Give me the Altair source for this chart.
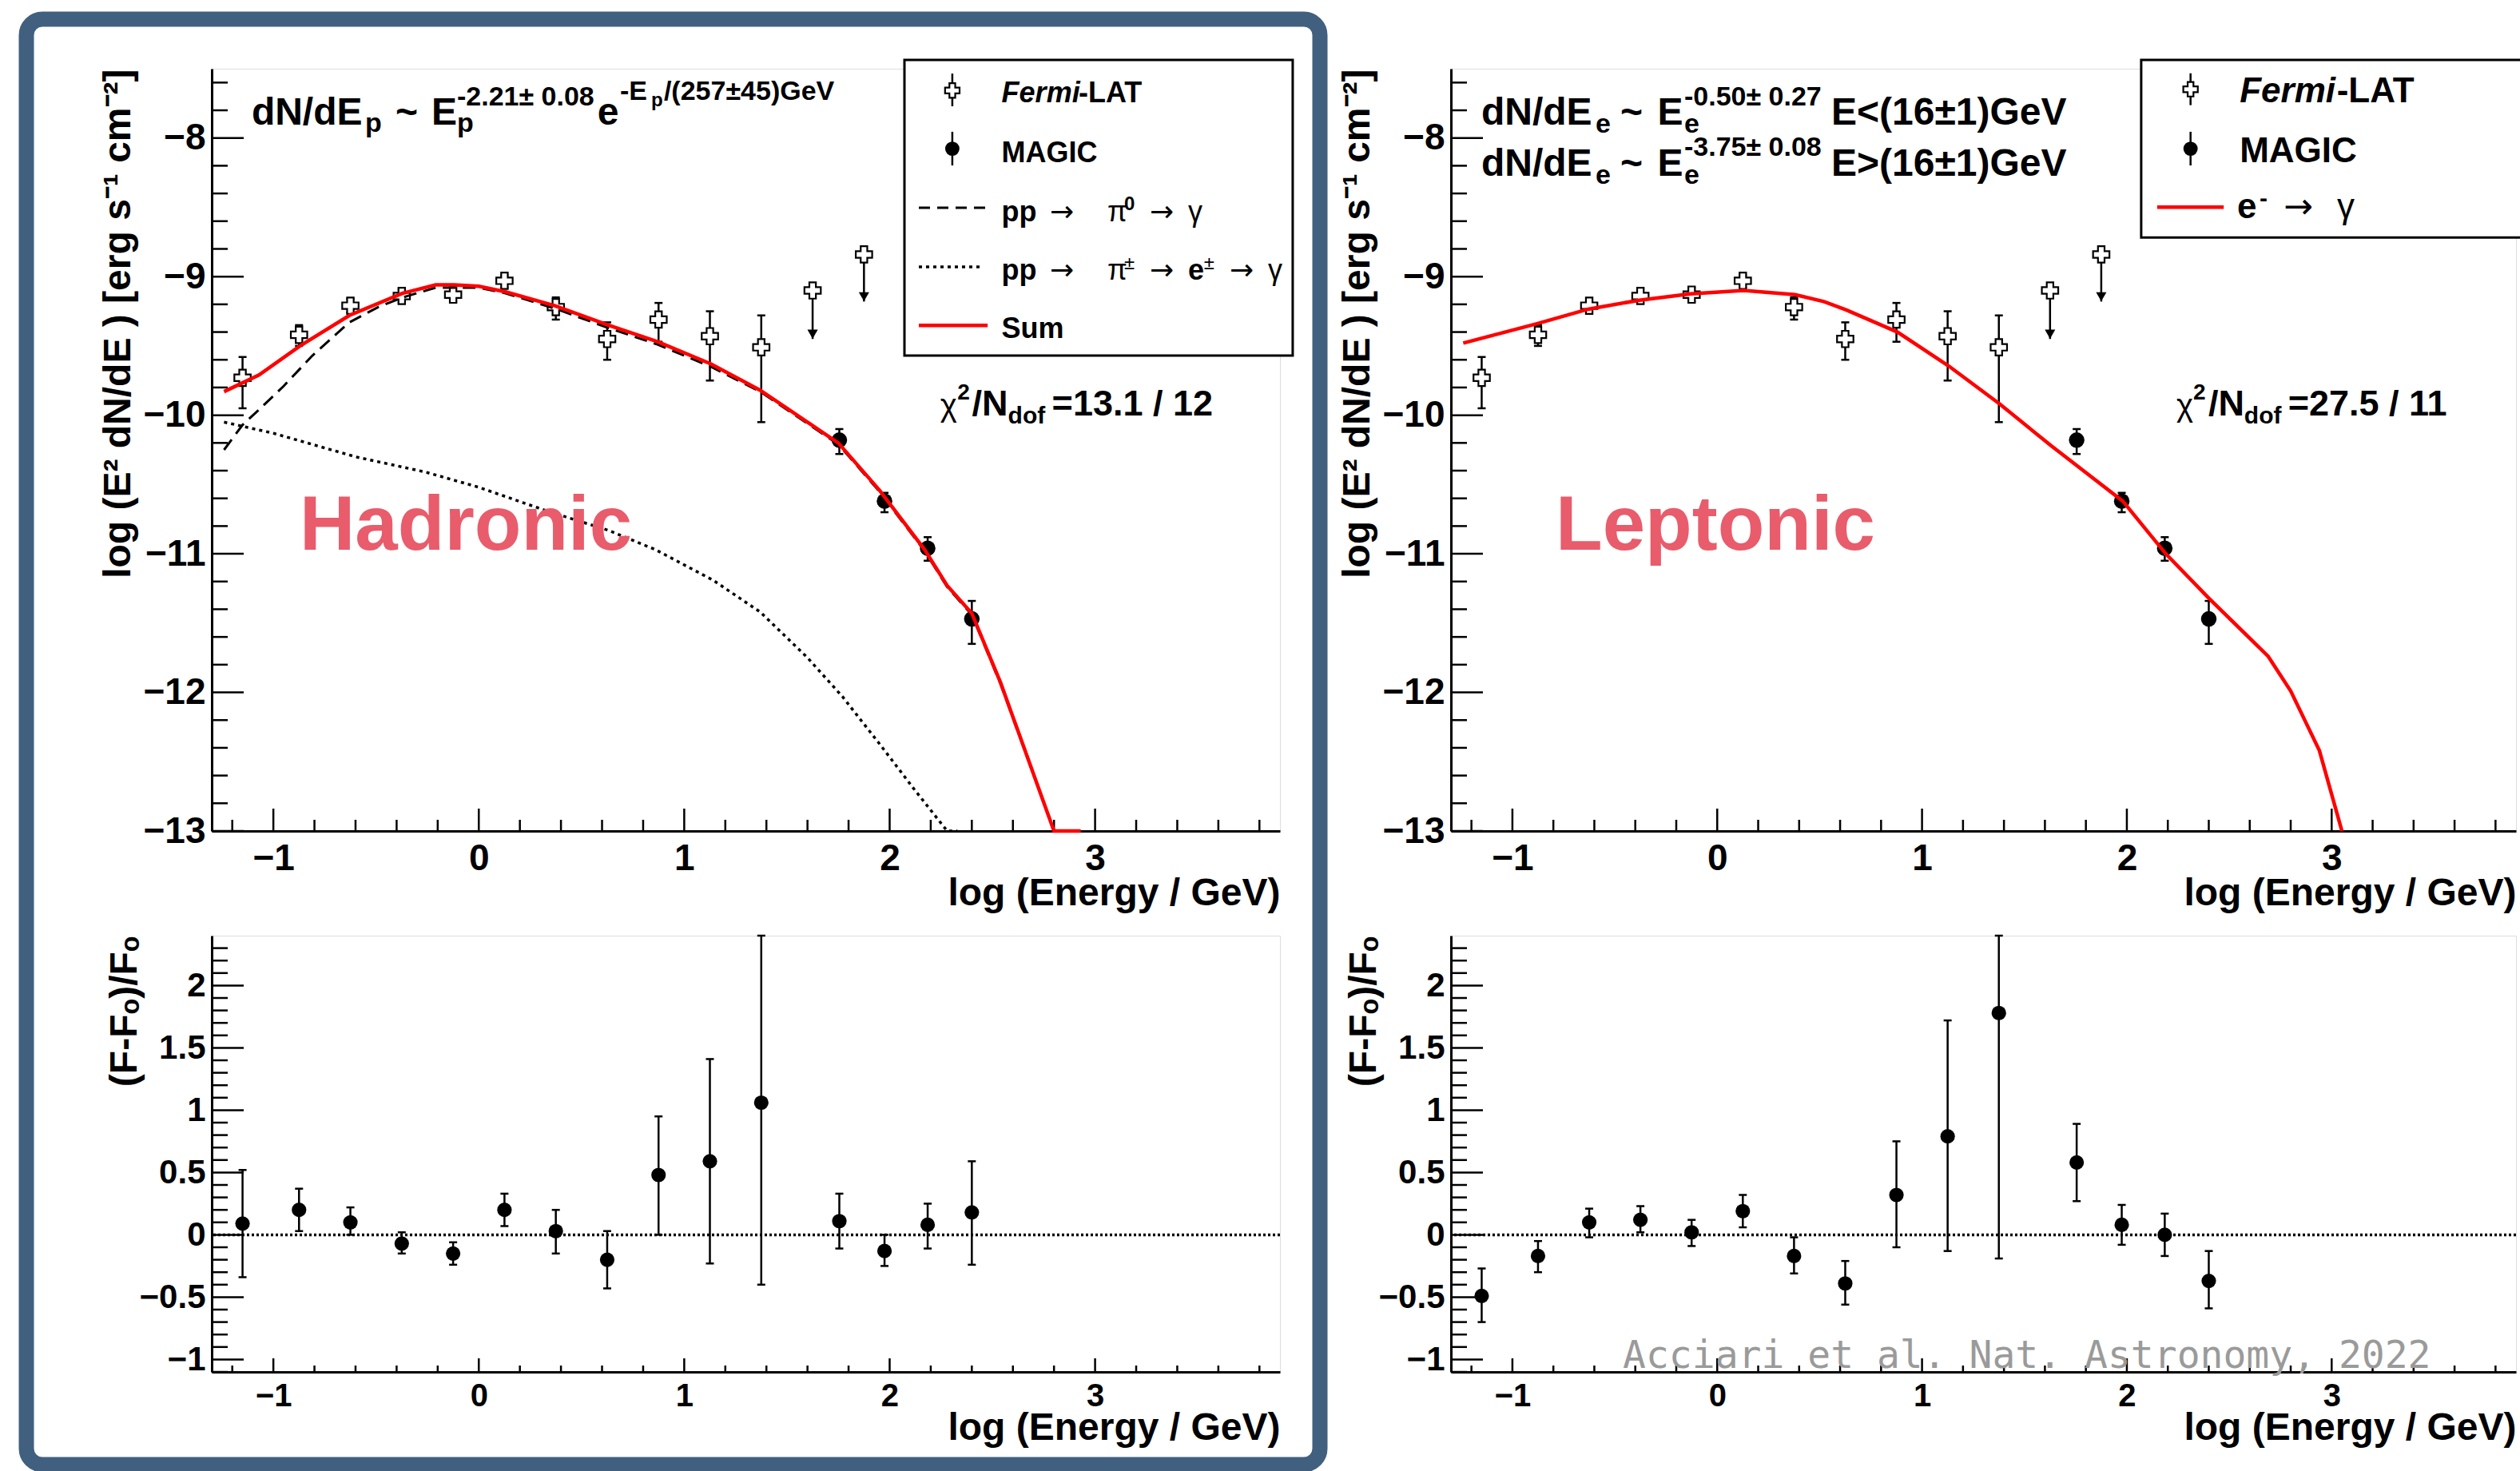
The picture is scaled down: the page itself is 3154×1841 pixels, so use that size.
import altair as alt
import pandas as pd

# ---------------- data ----------------
fermi_x  = [-1.15, -0.875, -0.625, -0.375, -0.125, 0.125, 0.375, 0.625, 0.875, 1.125, 1.375]
fermi_y  = [-9.73, -9.42, -9.21, -9.14, -9.13, -9.03, -9.22, -9.45, -9.31, -9.43, -9.51]
fermi_lo = [-9.95, -9.50, -9.26, -9.19, -9.18, -9.08, -9.31, -9.60, -9.47, -9.75, -10.05]
fermi_hi = [-9.58, -9.35, -9.16, -9.09, -9.08, -8.99, -9.15, -9.33, -9.19, -9.25, -9.28]

ul_x   = [1.625, 1.875]
ul_y   = [-9.10, -8.84]
ul_tip = [-9.45, -9.18]

magic_x  = [1.755, 1.975, 2.185, 2.40]
magic_y  = [-10.18, -10.62, -10.96, -11.47]
magic_lo = [-10.28, -10.70, -11.05, -11.65]
magic_hi = [-10.10, -10.56, -10.88, -11.34]

# hadronic model curves
sum_x = [-1.24, -1.07, -0.87, -0.63, -0.37, -0.21, -0.12, 0.0, 0.13, 0.37, 0.63, 0.87, 1.13,
         1.37, 1.60, 1.75, 1.95, 2.17, 2.28, 2.40, 2.54, 2.80, 2.93]
sum_y = [-9.83, -9.71, -9.50, -9.28, -9.12, -9.06, -9.06, -9.07, -9.11, -9.21, -9.35, -9.47, -9.63,
         -9.82, -10.05, -10.20, -10.54, -10.97, -11.23, -11.43, -11.93, -13.0, -13.0]
pi0_x = [-1.24, -1.15, -1.07, -0.95, -0.81, -0.63, -0.49, -0.37, -0.21, 0.0, 0.13, 0.37, 0.63,
         0.87, 1.13, 1.37, 1.60, 1.75, 1.95, 2.17, 2.28, 2.40, 2.54, 2.80]
pi0_y = [-10.25, -10.07, -9.96, -9.79, -9.57, -9.33, -9.22, -9.15, -9.08, -9.08, -9.12, -9.23, -9.37,
         -9.49, -9.65, -9.83, -10.06, -10.21, -10.55, -10.98, -11.24, -11.44, -11.94, -13.0]
pic_x = [-1.24, -1.0, -0.6, -0.26, 0.0, 0.33, 0.63, 0.86, 1.14, 1.37, 1.60, 1.77, 1.95, 2.12, 2.28, 2.33]
pic_y = [-10.05, -10.13, -10.30, -10.41, -10.52, -10.69, -10.83, -10.97, -11.19, -11.42, -11.75,
         -12.03, -12.37, -12.70, -13.0, -13.0]
# leptonic model curve
lep_x = [-1.24, -0.88, -0.63, -0.38, -0.13, 0.13, 0.38, 0.52, 0.63, 0.88, 1.13, 1.38, 1.63, 1.98,
         2.19, 2.40, 2.69, 2.80, 2.94, 3.05]
lep_y = [-9.48, -9.34, -9.235, -9.17, -9.125, -9.10, -9.13, -9.18, -9.24, -9.40, -9.645, -9.92,
         -10.22, -10.62, -11.0, -11.32, -11.74, -11.99, -12.42, -13.0]

# residuals (F-F0)/F0
res_x = fermi_x + magic_x
resL_y  = [0.09, 0.20, 0.10, -0.07, -0.15, 0.20, 0.03, -0.20, 0.48, 0.59, 1.06, 0.11, -0.13, 0.08, 0.18]
resL_lo = [-0.34, 0.03, 0.0, -0.15, -0.24, 0.07, -0.15, -0.43, 0.0, -0.23, -0.40, -0.11, -0.25, -0.11, -0.24]
resL_hi = [0.52, 0.37, 0.22, 0.02, -0.06, 0.33, 0.20, 0.03, 0.95, 1.41, 2.4, 0.33, 0.0, 0.25, 0.59]
resR_y  = [-0.49, -0.17, 0.10, 0.12, 0.02, 0.19, -0.17, -0.39, 0.32, 0.79, 1.78, 0.58, 0.08, 0.0, -0.37]
resR_lo = [-0.70, -0.30, -0.02, 0.02, -0.09, 0.06, -0.31, -0.56, -0.10, -0.13, -0.19, 0.27, -0.08, -0.17, -0.59]
resR_hi = [-0.27, -0.05, 0.21, 0.23, 0.12, 0.32, -0.02, -0.21, 0.75, 1.72, 2.4, 0.89, 0.24, 0.17, -0.13]

# tick values
x_major = [-1, 0, 1, 2, 3]
x_minor = [v for v in (round(-1.2 + 0.2 * i, 1) for i in range(26)) if abs(v - round(v)) > 1e-6]
yt_major = [-13, -12, -11, -10, -9, -8]
yt_minor = [v for v in (round(-13 + 0.2 * i, 1) for i in range(28)) if abs(v - round(v)) > 1e-6]
yb_major = [-1, -0.5, 0, 0.5, 1, 1.5, 2]
yb_minor = [v for v in (round(-1.1 + 0.1 * i, 1) for i in range(35)) if abs(v * 2 - round(v * 2)) > 1e-6]

# ---------------- layout constants ----------------
FONT = "Liberation Sans"
SYM = "DejaVu Sans"
XDOM = [-1.3, 3.9]
YTOP = [-13.0, -7.5]
YBOT = [-1.1, 2.4]
WL, WR, HT, HB = 1337, 1333, 954, 546
RED = "#ff0000"
PINK = "#E95C6B"
FRAME = "#41607f"


def X(f, axis=None):
    kw = {} if axis is None else {"axis": axis}
    return alt.X(f, type="quantitative", scale=alt.Scale(domain=XDOM, nice=False, zero=False), **kw)


def Y(f, dom, axis=None):
    kw = {} if axis is None else {"axis": axis}
    return alt.Y(f, type="quantitative", scale=alt.Scale(domain=dom, nice=False, zero=False), **kw)


def xaxis(w, lsize, lpad, ty):
    return alt.Axis(values=x_major, format="~g", grid=False, ticks=False, tickSize=0, domain=True,
                    domainColor="black", domainWidth=3, labelFont=FONT, labelFontSize=lsize,
                    labelFontWeight="bold", labelColor="black", labelPadding=lpad, labelFlush=False,
                    labelOverlap=False, title="log (Energy / GeV)", titleFont=FONT, titleFontSize=48,
                    titleFontWeight="bold", titleColor="black", titleAlign="right", titleAnchor="end",
                    titleBaseline="alphabetic", titleX=w, titleY=ty)


def yaxis(vals, title, lsize, tx):
    return alt.Axis(values=vals, format="~g", grid=False, ticks=False, tickSize=0, domain=True,
                    domainColor="black", domainWidth=3, labelFont=FONT, labelFontSize=lsize,
                    labelFontWeight="bold", labelColor="black", labelPadding=8, labelFlush=False,
                    labelOverlap=False, title=title, titleFont=FONT, titleFontSize=48,
                    titleFontWeight="bold", titleColor="black", titleAngle=270, titleAlign="right",
                    titleBaseline="alphabetic", titleX=tx, titleY=0)


def tick_layers(w, h, ymaj, ymin, ydom, yax, xax, xl_maj, xl_min):
    def rules(vals, kind, ln, axis=None):
        base = alt.Chart(pd.DataFrame({"v": vals})).mark_rule(color="black", strokeWidth=2.5)
        if kind == "y":
            return base.encode(y=Y("v", ydom, axis), x=alt.value(0), x2=alt.value(ln))
        return base.encode(x=X("v", axis), y=alt.value(h), y2=alt.value(h - ln))
    return [rules(ymaj, "y", 40, yax), rules(ymin, "y", 20),
            rules(x_major, "x", xl_maj, xax), rules(x_minor, "x", xl_min)]


def errbars(df, ydom, caps=True):
    out = [alt.Chart(df).mark_rule(color="black", strokeWidth=2.5).encode(
        x=X("x"), y=Y("lo", ydom), y2=alt.Y2("hi"))]
    if caps:
        for f in ("lo", "hi"):
            out.append(alt.Chart(df).mark_tick(orient="horizontal", color="black", size=10,
                                               thickness=2.5, opacity=1).encode(x=X("x"), y=Y(f, ydom)))
    return out


def crosses(df, ydom, size=420):
    return alt.Chart(df).mark_point(shape="cross", filled=True, fill="white", stroke="black",
                                    strokeWidth=2.2, size=size, opacity=1).encode(x=X("x"), y=Y("y", ydom))


def dots(df, ydom, size=380):
    return alt.Chart(df).mark_point(shape="circle", filled=True, color="black", size=size,
                                    opacity=1).encode(x=X("x"), y=Y("y", ydom))


def curve(xs, ys, color, width, dash=None):
    kw = dict(color=color, strokeWidth=width)
    if dash:
        kw["strokeDash"] = dash
    return alt.Chart(pd.DataFrame({"x": xs, "y": ys})).mark_line(**kw).encode(x=X("x"), y=Y("y", YTOP))


def seg(x1, x2, y, color, width, dash=None):
    kw = dict(color=color, strokeWidth=width)
    if dash:
        kw["strokeDash"] = dash
    return alt.Chart(pd.DataFrame({"x1": [x1], "x2": [x2], "y": [y]})).mark_rule(**kw).encode(
        x=X("x1"), x2=alt.X2("x2"), y=Y("y", YTOP))


def vbar(x, y1, y2):
    return alt.Chart(pd.DataFrame({"x": [x], "lo": [y1], "hi": [y2]})).mark_rule(
        color="black", strokeWidth=2.5).encode(x=X("x"), y=Y("lo", YTOP), y2=alt.Y2("hi"))


def box(x1, x2, y1, y2):
    return alt.Chart(pd.DataFrame({"x1": [x1], "x2": [x2], "y1": [y1], "y2": [y2]})).mark_rect(
        fill="white", stroke="black", strokeWidth=3).encode(
        x=X("x1"), x2=alt.X2("x2"), y=Y("y1", YTOP), y2=alt.Y2("y2"))


def text_layer(rows, ydom, weight="bold", style="normal", font=FONT, color="black"):
    df = pd.DataFrame(rows, columns=["label", "x", "y", "fs"])
    return alt.Chart(df).mark_text(align="left", baseline="alphabetic", font=font, fontWeight=weight,
                                   fontStyle=style, color=color).encode(
        x=X("x"), y=Y("y", ydom), text=alt.Text("label:N"),
        size=alt.Size("fs:Q", scale=None, legend=None))


fermi_df = pd.DataFrame({"x": fermi_x, "y": fermi_y, "lo": fermi_lo, "hi": fermi_hi})
magic_df = pd.DataFrame({"x": magic_x, "y": magic_y, "lo": magic_lo, "hi": magic_hi})
ul_df = pd.DataFrame({"x": ul_x, "y": ul_y, "tip": ul_tip})


def spectrum_layers():
    L = []
    L += errbars(fermi_df, YTOP)
    L += errbars(magic_df, YTOP)
    L.append(alt.Chart(ul_df).mark_rule(color="black", strokeWidth=2.5).encode(
        x=X("x"), y=Y("y", YTOP), y2=alt.Y2("tip")))
    L.append(alt.Chart(ul_df).mark_point(shape="triangle-down", filled=True, color="black", size=170,
                                         opacity=1, yOffset=-6).encode(x=X("x"), y=Y("tip", YTOP)))
    L.append(crosses(fermi_df, YTOP))
    L.append(crosses(ul_df, YTOP))
    L.append(dots(magic_df, YTOP))
    return L


YT_TITLE = "log (E\u00b2 dN/dE ) [erg s\u207b\u00b9 cm\u207b\u00b2]"
YB_TITLE = "(F-F\u2092)/F\u2092"

# ---------------- top-left: hadronic ----------------
TL_bold = [
    ("dN/dE", -1.106, -7.901, 48), ("p", -0.553, -7.955, 34), ("~", -0.405, -7.901, 48),
    ("E", -0.230, -7.901, 48), ("p", -0.106, -7.955, 34), ("-2.21\u00b1 0.08", -0.106, -7.765, 34),
    ("e", 0.578, -7.901, 48), ("-E", 0.687, -7.723, 34), ("p", 0.839, -7.769, 24),
    ("/(257\u00b145)GeV", 0.901, -7.723, 34),
    ("2", 2.330, -9.887, 28), ("/N", 2.401, -10.002, 45), ("dof", 2.576, -10.060, 30),
    ("=13.1 / 12", 2.790, -10.002, 45),
    ("-LAT", 2.920, -7.744, 36), ("MAGIC", 2.545, -8.173, 36), ("pp", 2.545, -8.599, 36),
    ("0", 3.142, -8.522, 24), ("pp", 2.545, -9.022, 36), ("e", 3.453, -9.022, 36),
    ("Sum", 2.545, -9.445, 36),
]
TL_italic = [("Fermi", 2.545, -7.744, 36)]
TL_regular = [
    ("\u03c7", 2.246, -10.008, 40),
    ("\u03c0", 3.060, -8.599, 36), ("\u03b3", 3.453, -8.599, 36),
    ("\u03c0", 3.060, -9.022, 36), ("\u00b1", 3.142, -8.947, 24),
    ("\u00b1", 3.530, -8.947, 24), ("\u03b3", 3.842, -9.022, 36),
]
TL_arrows = [
    ("\u2192", 2.780, -8.599, 36), ("\u2192", 3.266, -8.599, 36),
    ("\u2192", 2.780, -9.022, 36), ("\u2192", 3.266, -9.022, 36), ("\u2192", 3.655, -9.022, 36),
]
TL_pink = [("Hadronic", -0.872, -10.971, 96)]

frame = alt.Chart(pd.DataFrame({"a": [0]})).mark_rect(
    fill="transparent", stroke=FRAME, strokeWidth=19, cornerRadius=20).encode(
    x=alt.value(-232), x2=alt.value(1387), y=alt.value(-62), y2=alt.value(1747))

TL = alt.layer(
    *tick_layers(WL, HT, yt_major, yt_minor, YTOP, yaxis(yt_major, YT_TITLE, 46, -103),
                 xaxis(WL, 46, 12, 92), 28, 14),
    *spectrum_layers(),
    curve(pic_x, pic_y, "black", 3.5, [4, 5]),
    curve(pi0_x, pi0_y, "black", 3, [16, 9]),
    curve(sum_x, sum_y, RED, 4.5),
    box(2.072, 3.962, -7.437, -9.570),
    vbar(2.305, -7.535, -7.771),
    crosses(pd.DataFrame({"x": [2.305], "y": [-7.657]}), YTOP, 330),
    vbar(2.305, -7.955, -8.198),
    dots(pd.DataFrame({"x": [2.305], "y": [-8.077]}), YTOP, 320),
    seg(2.142, 2.469, -8.503, "black", 3, [14, 9]),
    seg(2.142, 2.453, -8.930, "black", 3.5, [4, 5]),
    seg(2.142, 2.477, -9.352, RED, 4.5),
    text_layer(TL_bold, YTOP),
    text_layer(TL_italic, YTOP, style="italic"),
    text_layer(TL_regular, YTOP, weight="normal"),
    text_layer(TL_arrows, YTOP, weight="normal", font=SYM),
    text_layer(TL_pink, YTOP, color=PINK),
    frame,
).properties(width=WL, height=HT)

# ---------------- top-right: leptonic ----------------
TR_bold = [
    ("dN/dE", -1.152, -7.901, 48), ("e", -0.594, -7.960, 34), ("~", -0.473, -7.901, 48),
    ("E", -0.292, -7.901, 48), ("e", -0.161, -7.960, 34), ("-0.50\u00b1 0.27", -0.161, -7.765, 34),
    ("E<(16\u00b11)GeV", 0.557, -7.901, 48),
    ("dN/dE", -1.152, -8.273, 48), ("e", -0.594, -8.330, 34), ("~", -0.473, -8.273, 48),
    ("E", -0.292, -8.273, 48), ("e", -0.161, -8.330, 34), ("-3.75\u00b1 0.08", -0.161, -8.126, 34),
    ("E>(16\u00b11)GeV", 0.557, -8.273, 48),
    ("2", 2.324, -9.887, 28), ("/N", 2.398, -10.002, 45), ("dof", 2.573, -10.060, 30),
    ("=27.5 / 11", 2.787, -10.002, 45),
    ("-LAT", 3.025, -7.744, 44), ("MAGIC", 2.551, -8.177, 44), ("e", 2.539, -8.580, 44),
    ("-", 2.648, -8.492, 30),
]
TR_italic = [("Fermi", 2.551, -7.744, 44)]
TR_regular = [("\u03c7", 2.242, -10.008, 40), ("\u03b3", 3.026, -8.580, 44)]
TR_arrows = [("\u2192", 2.765, -8.580, 44)]
TR_pink = [("Leptonic", -0.789, -10.971, 96)]

TR = alt.layer(
    *tick_layers(WR, HT, yt_major, yt_minor, YTOP, yaxis(yt_major, YT_TITLE, 46, -103),
                 xaxis(WR, 46, 12, 92), 28, 14),
    *spectrum_layers(),
    curve(lep_x, lep_y, RED, 4.5),
    box(2.070, 3.982, -7.437, -8.718),
    vbar(2.311, -7.533, -7.763),
    crosses(pd.DataFrame({"x": [2.311], "y": [-7.648]}), YTOP, 330),
    vbar(2.311, -7.955, -8.198),
    dots(pd.DataFrame({"x": [2.311], "y": [-8.077]}), YTOP, 320),
    seg(2.148, 2.473, -8.499, RED, 4.5),
    text_layer(TR_bold, YTOP),
    text_layer(TR_italic, YTOP, style="italic"),
    text_layer(TR_regular, YTOP, weight="normal"),
    text_layer(TR_arrows, YTOP, weight="normal", font=SYM),
    text_layer(TR_pink, YTOP, color=PINK),
).properties(width=WR, height=HT)


# ---------------- residual panels ----------------
def residual_panel(w, ys, lo, hi, extra=()):
    df = pd.DataFrame({"x": res_x, "y": ys, "lo": lo, "hi": hi})
    zero = alt.Chart(pd.DataFrame({"y": [0]})).mark_rule(color="black", strokeWidth=3.5,
                                                         strokeDash=[3, 3]).encode(y=Y("y", YBOT))
    return alt.layer(
        *tick_layers(w, HB, yb_major, yb_minor, YBOT, yaxis(yb_major, YB_TITLE, 42, -95),
                     xaxis(w, 40, 10, 84), 17, 8),
        zero,
        *errbars(df, YBOT),
        dots(df, YBOT, 330),
        *extra,
    ).properties(width=w, height=HB)


BL = residual_panel(WL, resL_y, resL_lo, resL_hi)
BR = residual_panel(WR, resR_y, resR_lo, resR_hi, extra=[
    text_layer([("Acciari et al. Nat. Astronomy, 2022", -0.461, -1.068, 48)], YBOT,
               weight="normal", font="DejaVu Sans Mono", color="#9a9a9a")])

chart = alt.concat(
    TL, TR, BL, BR, columns=2, spacing={"row": 131, "column": 214}, bounds="flush", align="each"
).properties(
    padding={"left": 265, "top": 86, "right": 2889, "bottom": 1755},
    autosize=alt.AutoSizeParams(type="none"),
).configure_view(stroke="#555555", strokeWidth=2).configure(font=FONT, background="white")

chart.save("out.html", embed_options={"renderer": "svg", "actions": False})
